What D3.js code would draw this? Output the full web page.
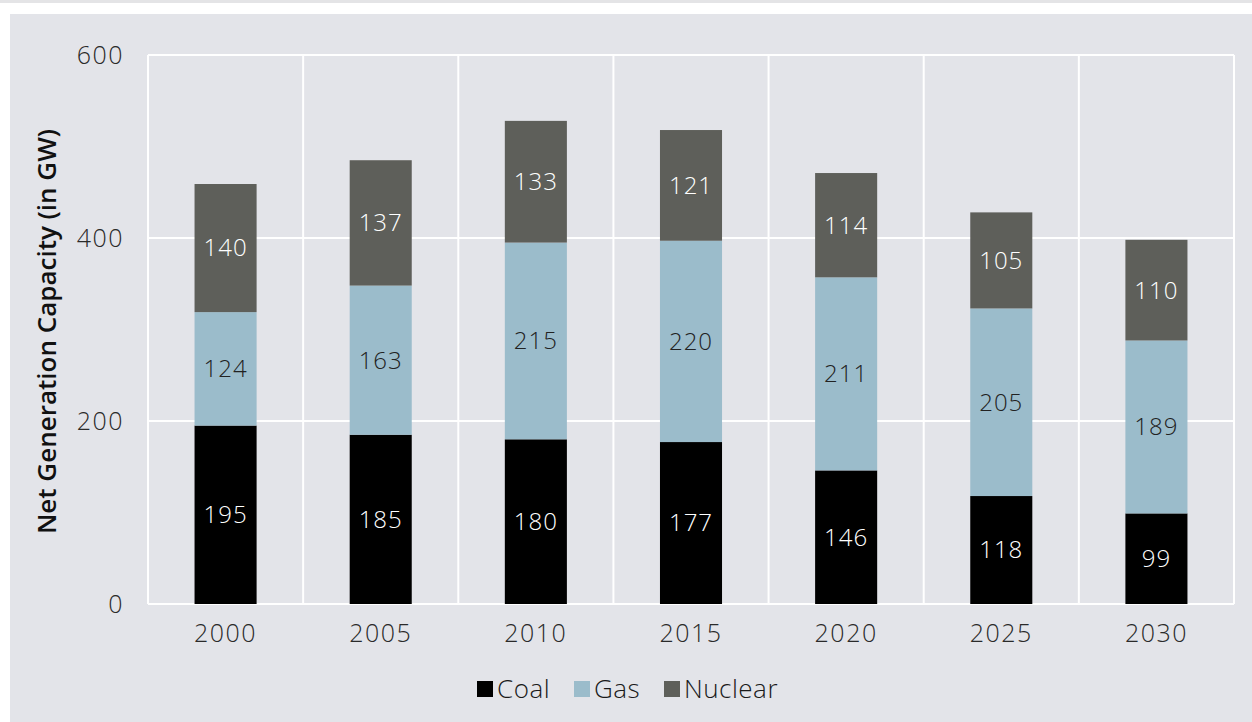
<!DOCTYPE html>
<html>
<head>
<meta charset="utf-8">
<title>Net Generation Capacity</title>
<script src="https://cdn.jsdelivr.net/npm/d3@7"></script>
<style>
  body { margin: 0; background: #fff; }
  svg { display: block; }
  .tick text { font-family: "Open Sans", sans-serif; font-size: 25px; font-weight: 350; letter-spacing: 1.5px; fill: #2a2a2a; }
  .lbl { font-family: "Open Sans", sans-serif; font-size: 24px; font-weight: 350; letter-spacing: 1px; }
  .legend text { font-family: "Open Sans", sans-serif; font-size: 26px; font-weight: 350; letter-spacing: 0.5px; fill: #1a1a1a; }
</style>
</head>
<body>
<script>
// data
var years = ["2000", "2005", "2010", "2015", "2020", "2025", "2030"];
var coal = [195, 185, 180, 177, 146, 118, 99];
var gas = [124, 163, 215, 220, 211, 205, 189];
var nuclear = [140, 137, 133, 121, 114, 105, 110];
var seriesNames = ["Coal", "Gas", "Nuclear"];
var colors = ["#000000", "#9bbccb", "#5e5f5a"];
var labelColors = ["#ffffff", "#222222", "#ffffff"];
var yTicks = [0, 200, 400, 600];

var width = 1252, height = 722;
var margin = {top: 55, right: 18, bottom: 118, left: 148};

var svg = d3.select("body").append("svg")
    .attr("width", width)
    .attr("height", height);

// background panel
svg.append("rect").attr("x", 0).attr("y", 0).attr("width", width).attr("height", 3).attr("fill", "#e4e4e6");
svg.append("rect").attr("x", 10).attr("y", 14).attr("width", width - 10).attr("height", height - 14).attr("fill", "#e3e4e9");

var rows = years.map(function (y, i) {
  return {year: y, Coal: coal[i], Gas: gas[i], Nuclear: nuclear[i]};
});
var stacked = d3.stack().keys(seriesNames)(rows);

var x = d3.scaleBand()
    .domain(years)
    .range([margin.left, width - margin.right])
    .paddingInner(0.6)
    .paddingOuter(0.3);

var y = d3.scaleLinear()
    .domain([0, 600])
    .range([height - margin.bottom, margin.top]);

var g = svg.append("g");

// horizontal grid
g.selectAll("line.hgrid")
  .data(yTicks).enter()
  .append("line")
  .attr("class", "hgrid")
  .attr("x1", margin.left).attr("x2", width - margin.right)
  .attr("y1", function (d) { return y(d); })
  .attr("y2", function (d) { return y(d); })
  .attr("stroke", "#fff")
  .attr("stroke-width", 2);

// vertical grid at category boundaries
var bounds = d3.range(years.length + 1).map(function (i) {
  return margin.left + i * (width - margin.right - margin.left) / years.length;
});
g.selectAll("line.vgrid")
  .data(bounds).enter()
  .append("line")
  .attr("class", "vgrid")
  .attr("x1", function (d) { return d; }).attr("x2", function (d) { return d; })
  .attr("y1", y(600)).attr("y2", y(0))
  .attr("stroke", "#fff")
  .attr("stroke-width", 2);

// bars
var layers = g.selectAll("g.layer")
  .data(stacked).enter()
  .append("g")
  .attr("class", "layer")
  .attr("fill", function (d, i) { return colors[i]; });

layers.selectAll("rect")
  .data(function (d) { return d; }).enter()
  .append("rect")
  .attr("x", function (d) { return x(d.data.year); })
  .attr("width", x.bandwidth())
  .attr("y", function (d) { return y(d[1]); })
  .attr("height", function (d) { return y(d[0]) - y(d[1]); });

// value labels
layers.selectAll("text")
  .data(function (d, i) { return d.map(function (v) { return {v: v, i: i}; }); }).enter()
  .append("text")
  .attr("class", "lbl")
  .attr("x", function (d) { return x(d.v.data.year) + x.bandwidth() / 2; })
  .attr("y", function (d) { return (y(d.v[0]) + y(d.v[1])) / 2; })
  .attr("dy", "0.35em")
  .attr("text-anchor", "middle")
  .attr("fill", function (d) { return labelColors[d.i]; })
  .text(function (d) { return d.v[1] - d.v[0]; });

// axes
var yAxis = svg.append("g")
  .attr("transform", "translate(" + margin.left + ",0)")
  .call(d3.axisLeft(y).tickValues(yTicks).tickSize(0).tickPadding(24));
yAxis.select(".domain").remove();

var xAxis = svg.append("g")
  .attr("transform", "translate(0," + y(0) + ")")
  .call(d3.axisBottom(x).tickSize(0).tickPadding(20));
xAxis.select(".domain").remove();

svg.append("text")
  .attr("transform", "translate(56," + ((y(0) + y(600)) / 2 + 2) + ") rotate(-90)")
  .attr("text-anchor", "middle")
  .attr("font-family", "Open Sans, sans-serif")
  .attr("font-size", "26px")
  .attr("font-weight", "600")
  .attr("fill", "#111")
  .text("Net Generation Capacity (in GW)");

// legend
var legendX = [477, 574, 664];
var legend = svg.append("g").attr("class", "legend");
var items = legend.selectAll("g")
  .data(seriesNames).enter()
  .append("g")
  .attr("transform", function (d, i) { return "translate(" + legendX[i] + ",681)"; });
items.append("rect")
  .attr("width", 16).attr("height", 16)
  .attr("fill", function (d, i) { return colors[i]; });
items.append("text")
  .attr("x", 20).attr("y", 8).attr("dy", "0.36em")
  .text(function (d) { return d; });
</script>
</body>
</html>
